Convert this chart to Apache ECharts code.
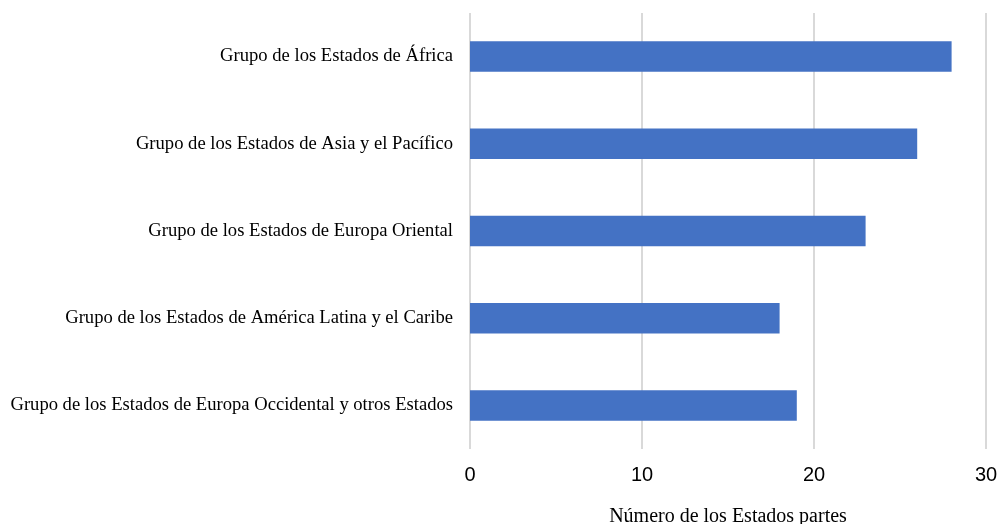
<!DOCTYPE html>
<html>
<head>
<meta charset="utf-8">
<script src="https://cdn.jsdelivr.net/npm/echarts@6/dist/echarts.min.js"></script>
<style>
  html, body { margin: 0; padding: 0; background: #ffffff; }
  #chart { width: 998px; height: 524px; }
</style>
</head>
<body>
<div id="chart"></div>
<script>
// Regional groups (bottom to top as drawn on the category axis)
const categories = [
  'Grupo de los Estados de Europa Occidental y otros Estados',
  'Grupo de los Estados de América Latina y el Caribe',
  'Grupo de los Estados de Europa Oriental',
  'Grupo de los Estados de Asia y el Pacífico',
  'Grupo de los Estados de África'
];
const statesParties = [19, 18, 23, 26, 28];
const axisTitle = 'Número de los Estados partes';

const chart = echarts.init(document.getElementById('chart'), null, { renderer: 'canvas' });
chart.setOption({
  animation: false,
  grid: { left: 470, right: 12, top: 13, bottom: 75, containLabel: false, outerBoundsMode: 'none' },
  xAxis: {
    type: 'value',
    min: 0,
    max: 30,
    interval: 10,
    name: axisTitle,
    nameLocation: 'middle',
    nameGap: 58,
    nameTextStyle: { fontFamily: '"Liberation Serif", "Times New Roman", serif', fontSize: 20, color: '#000' },
    axisLine: { show: false },
    axisTick: { show: false },
    axisLabel: { fontFamily: '"Liberation Sans", Arial, sans-serif', fontSize: 20, color: '#000', margin: 16 },
    splitLine: { show: true, lineStyle: { color: '#d9d9d9', width: 2 } }
  },
  yAxis: {
    type: 'category',
    data: categories,
    axisLine: { show: false },
    axisTick: { show: false },
    axisLabel: { fontFamily: '"Liberation Serif", "Times New Roman", serif', fontSize: 18.6, color: '#000', margin: 17 }
  },
  series: [{
    type: 'bar',
    data: statesParties,
    barWidth: '35%',
    itemStyle: { color: '#4472c4' }
  }]
});
</script>
</body>
</html>
